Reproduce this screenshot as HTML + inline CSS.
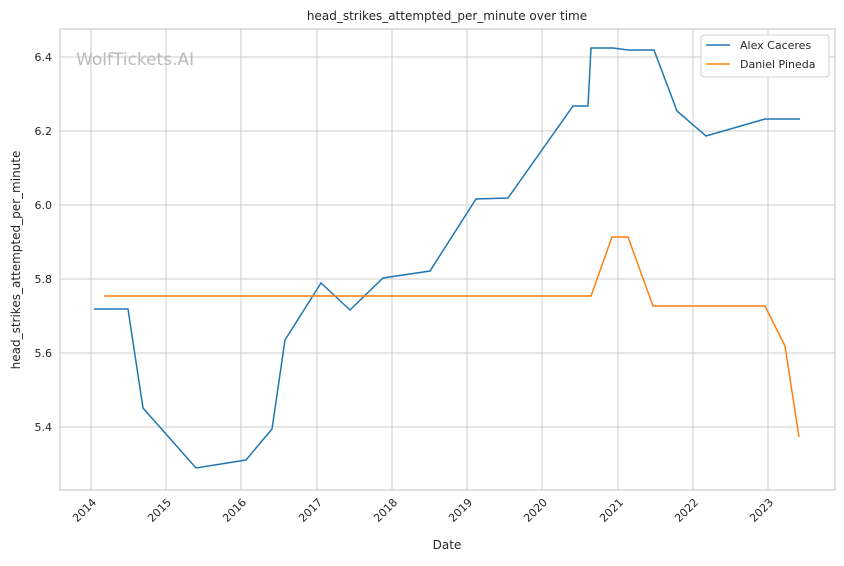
<!DOCTYPE html>
<html><head><meta charset="utf-8"><style>
body{margin:0;background:#fff;}
svg text{font-family:"DejaVu Sans","Liberation Sans",sans-serif;fill:#262626;}
</style></head><body>
<svg width="844" height="561" xmlns="http://www.w3.org/2000/svg">
<rect width="844" height="561" fill="#fff"/>
<g stroke="#cccccc" stroke-width="1">
<line x1="91" y1="29" x2="91" y2="490"/><line x1="166" y1="29" x2="166" y2="490"/>
<line x1="241" y1="29" x2="241" y2="490"/><line x1="317" y1="29" x2="317" y2="490"/>
<line x1="392" y1="29" x2="392" y2="490"/><line x1="467" y1="29" x2="467" y2="490"/>
<line x1="542" y1="29" x2="542" y2="490"/><line x1="618" y1="29" x2="618" y2="490"/>
<line x1="693" y1="29" x2="693" y2="490"/><line x1="768" y1="29" x2="768" y2="490"/>
<line x1="60" y1="57" x2="835" y2="57"/><line x1="60" y1="131" x2="835" y2="131"/>
<line x1="60" y1="205" x2="835" y2="205"/><line x1="60" y1="279" x2="835" y2="279"/>
<line x1="60" y1="353" x2="835" y2="353"/><line x1="60" y1="427" x2="835" y2="427"/>
</g>
<rect x="60" y="29" width="775" height="461" fill="none" stroke="#cccccc" stroke-width="1.2"/>
<text x="76" y="65" font-size="17" style="fill:#bbbbbb">WolfTickets.AI</text>
<polyline fill="none" stroke="#1f77b4" stroke-width="1.5" points="94,309 128,309 143,408 196,468 246,460 272,429 285,340 321,283 350,310 383,278 430,271 476,199 508,198 573,106 588,106 591,48 613,48 628,50 654,50 677,111 706,136 765,119 800,119"/>
<polyline fill="none" stroke="#ff7f0e" stroke-width="1.5" points="104,296 591,296 612,237 628,237 653,306 765,306 785,346 799,437"/>
<g font-size="11" text-anchor="end">
<text x="52" y="61">6.4</text><text x="52" y="135">6.2</text><text x="52" y="209">6.0</text>
<text x="52" y="283">5.8</text><text x="52" y="357">5.6</text><text x="52" y="431">5.4</text>
</g>
<g font-size="11" text-anchor="end">
<text transform="translate(97,503) rotate(-45)">2014</text>
<text transform="translate(172,503) rotate(-45)">2015</text>
<text transform="translate(247,503) rotate(-45)">2016</text>
<text transform="translate(323,503) rotate(-45)">2017</text>
<text transform="translate(398,503) rotate(-45)">2018</text>
<text transform="translate(473,503) rotate(-45)">2019</text>
<text transform="translate(548,503) rotate(-45)">2020</text>
<text transform="translate(624,503) rotate(-45)">2021</text>
<text transform="translate(699,503) rotate(-45)">2022</text>
<text transform="translate(774,503) rotate(-45)">2023</text>
</g>
<text x="447" y="549" font-size="12" text-anchor="middle">Date</text>
<text transform="translate(20,260) rotate(-90)" font-size="12" text-anchor="middle">head_strikes_attempted_per_minute</text>
<text x="447" y="20" font-size="12" text-anchor="middle">head_strikes_attempted_per_minute over time</text>
<rect x="701" y="35" width="128" height="42" rx="3" fill="#fff" stroke="#d0d0d0"/>
<line x1="706" y1="45" x2="730" y2="45" stroke="#1f77b4" stroke-width="1.5"/>
<line x1="706" y1="64" x2="730" y2="64" stroke="#ff7f0e" stroke-width="1.5"/>
<text x="740" y="49" font-size="11">Alex Caceres</text>
<text x="740" y="68" font-size="11">Daniel Pineda</text>
</svg>
</body></html>
